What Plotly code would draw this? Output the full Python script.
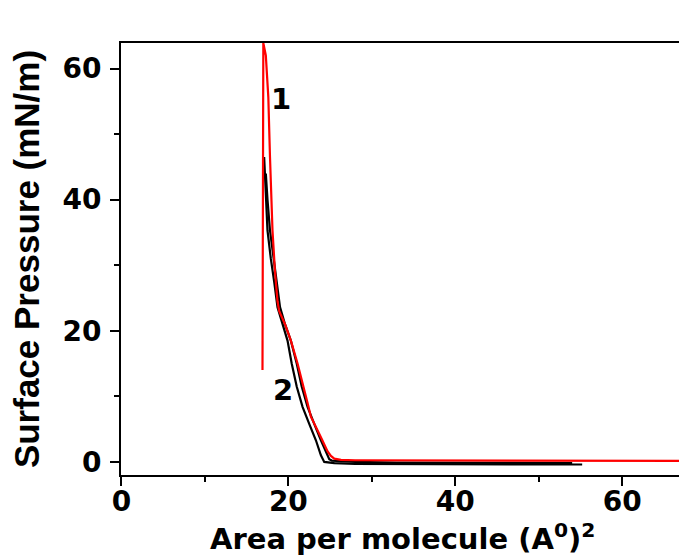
import plotly.graph_objects as go

# Curve 1 (red)
red_x = [66.8, 50, 40, 33, 28, 26.3, 25.5, 25.1, 24.7, 24.0, 23.3, 22.7, 22.3, 21.1, 20.3, 19.6, 18.9, 18.7, 18.4, 18.1, 17.8, 17.6, 17.3, 17.0, 16.9]
red_y = [0.15, 0.15, 0.2, 0.2, 0.25, 0.3, 0.5, 0.9, 1.6, 3.5, 5.3, 6.9, 9.0, 15.0, 18.5, 21.0, 23.0, 24.5, 29.0, 35.3, 46.5, 55.6, 62.0, 63.9, 14.0]

# Curves 2 (black)
blk1_x = [55.2, 45, 33, 28, 25.5, 24.6, 24.3, 23.9, 23.3, 22.5, 21.7, 21.0, 20.4, 19.9, 19.3, 18.7, 18.3, 17.9, 17.5, 17.3, 17.1]
blk1_y = [-0.4, -0.4, -0.4, -0.3, -0.2, -0.1, 0.0, 1.0, 3.3, 5.8, 8.4, 11.5, 15.0, 18.5, 21.0, 23.6, 27.5, 31.0, 35.3, 40.0, 46.5]
blk2_x = [54.0, 45, 33, 28, 26.0, 25.2, 24.9, 24.5, 23.9, 23.1, 22.3, 21.6, 21.0, 20.3, 19.6, 19.0, 18.6, 18.2, 17.8, 17.5, 17.3]
blk2_y = [-0.2, -0.2, -0.1, 0.0, 0.1, 0.2, 0.4, 1.5, 3.3, 5.8, 8.4, 11.5, 15.0, 18.5, 21.0, 23.6, 27.5, 31.0, 35.3, 40.0, 44.0]

labels = ["1", "2"]
label_x = [19.1, 19.3]
label_y = [55.4, 10.9]

x_ticks = [0, 20, 40, 60]
y_ticks = [0, 20, 40, 60]

x_title = "Area per molecule (A<sup>0</sup>)<sup>2</sup>"
y_title = "Surface Pressure (mN/m)"

WIDE = "DejaVu Sans, sans-serif"
NARROW = "Liberation Sans, Arial, sans-serif"

fig = go.Figure()
fig.add_trace(go.Scatter(x=blk1_x, y=blk1_y, mode="lines",
                         line=dict(color="black", width=2.2), showlegend=False))
fig.add_trace(go.Scatter(x=blk2_x, y=blk2_y, mode="lines",
                         line=dict(color="black", width=2.2), showlegend=False))
fig.add_trace(go.Scatter(x=red_x, y=red_y, mode="lines",
                         line=dict(color="#ff0000", width=2.2), showlegend=False))

for t, xx, yy in zip(labels, label_x, label_y):
    fig.add_annotation(x=xx, y=yy, text=t, showarrow=False,
                       font=dict(family=WIDE, size=29, color="black", weight="bold"))

# x-axis title as a paper-positioned annotation
fig.add_annotation(x=0.505, y=0, xref="paper", yref="paper", xanchor="center",
                   yanchor="middle", yshift=-62, text=x_title, showarrow=False,
                   font=dict(family=WIDE, size=29, color="black", weight="bold"))

axis_common = dict(
    showline=True, linecolor="black", linewidth=2,
    ticks="outside", ticklen=9, tickwidth=2, tickcolor="black",
    showgrid=False, zeroline=False, automargin=False,
    tickfont=dict(family=WIDE, size=28, color="black", weight="bold"),
)

fig.update_xaxes(
    range=[-0.05, 66.8], tickvals=x_ticks, mirror=True,
    minor=dict(ticks="outside", ticklen=5, tickwidth=2, tickcolor="black", dtick=10, tick0=0),
    ticklabelstandoff=-9,
    **axis_common,
)
fig.update_yaxes(
    range=[-2.0, 63.9], tickvals=y_ticks,
    minor=dict(ticks="outside", ticklen=5, tickwidth=2, tickcolor="black", dtick=10, tick0=0),
    ticklabelstandoff=3,
    title=dict(text=y_title, standoff=12,
               font=dict(family=NARROW, size=35, color="black", weight="bold")),
    **axis_common,
)

fig.update_layout(
    template="none",
    width=679, height=557,
    margin=dict(l=121, r=0, t=43, b=82),
    plot_bgcolor="white", paper_bgcolor="white",
)

fig.write_html("out.html", config={"displayModeBar": False},
               post_script="document.body.style.margin='0';document.body.style.overflow='hidden';")
